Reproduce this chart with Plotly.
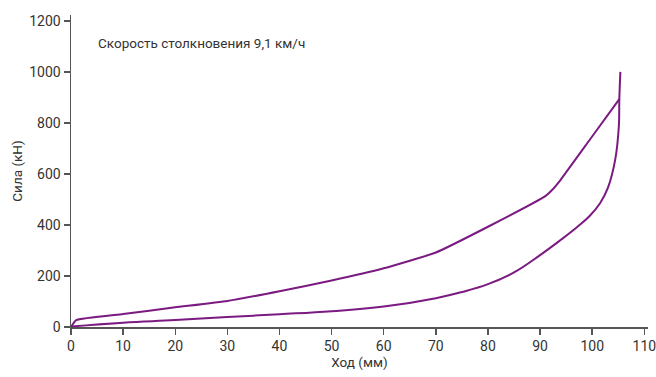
import plotly.graph_objects as go

# Loading branch (upper curve)
load_x = [0, 1, 10, 20, 30, 40, 50, 60, 70, 80, 91, 92.3, 93.9, 99.6, 105.2]
load_y = [0, 27, 51, 77, 102, 140, 182, 230, 292, 393, 513, 537, 576, 736, 893]

# Unloading branch (lower curve), from peak back to origin
unload_x = [105.4, 105.2, 105.1, 104.4, 103.0, 101.5, 99.5, 97.0, 94.0, 90.0, 85.0, 80.0, 75.0, 70.0, 60, 50, 40, 30, 20, 10, 0]
unload_y = [1000, 893, 785, 655, 545, 485, 435, 390, 342, 282, 214, 168, 137, 113, 80, 62, 50, 39, 27, 17, 2]

x_ticks = [0, 10, 20, 30, 40, 50, 60, 70, 80, 90, 100, 110]
y_ticks = [0, 200, 400, 600, 800, 1000, 1200]

line_color = "#7b1a80"
axis_color = "#555555"
text_color = "#333333"

fig = go.Figure()
fig.add_trace(go.Scatter(x=load_x, y=load_y, mode="lines",
                         line=dict(color=line_color, width=2, shape="spline", smoothing=0.4),
                         showlegend=False, hoverinfo="skip"))
fig.add_trace(go.Scatter(x=unload_x, y=unload_y, mode="lines",
                         line=dict(color=line_color, width=2, shape="spline", smoothing=1.2),
                         showlegend=False, hoverinfo="skip"))

fig.add_annotation(x=4.8, y=1114, xref="x", yref="y", text="Скорость столкновения 9,1 км/ч",
                   showarrow=False, xanchor="left", yanchor="middle",
                   font=dict(family="Roboto", size=13.5, color=text_color))

fig.update_layout(
    width=656, height=377,
    margin=dict(l=71, r=8, t=15, b=50),
    paper_bgcolor="white", plot_bgcolor="white",
    font=dict(family="Roboto", size=14, color=text_color),
    xaxis=dict(range=[0, 110.7], tickvals=x_ticks, ticktext=[str(v) for v in x_ticks],
               automargin=False, ticklabeloverflow="allow",
               showgrid=False, zeroline=False, showline=True, linecolor=axis_color, linewidth=1.5,
               ticks="outside", ticklen=6, tickwidth=1.5, tickcolor=axis_color,
               title=dict(text="Ход (мм)", font=dict(size=13.5), standoff=4),
               tickfont=dict(size=14)),
    yaxis=dict(range=[0, 1223], tickvals=y_ticks, ticktext=[str(v) for v in y_ticks],
               automargin=False,
               showgrid=False, zeroline=False, showline=True, linecolor=axis_color, linewidth=1.5,
               ticks="outside", ticklen=6, tickwidth=1.5, tickcolor=axis_color,
               title=dict(text="Сила (кН)", font=dict(size=13.5), standoff=3),
               tickfont=dict(size=14)),
)

# remove the default page margin so the figure fills the window exactly
post = "document.body.style.margin='0';document.body.style.overflow='hidden';"
fig.write_html("out.html", post_script=post, config={"displayModeBar": False, "staticPlot": True})
